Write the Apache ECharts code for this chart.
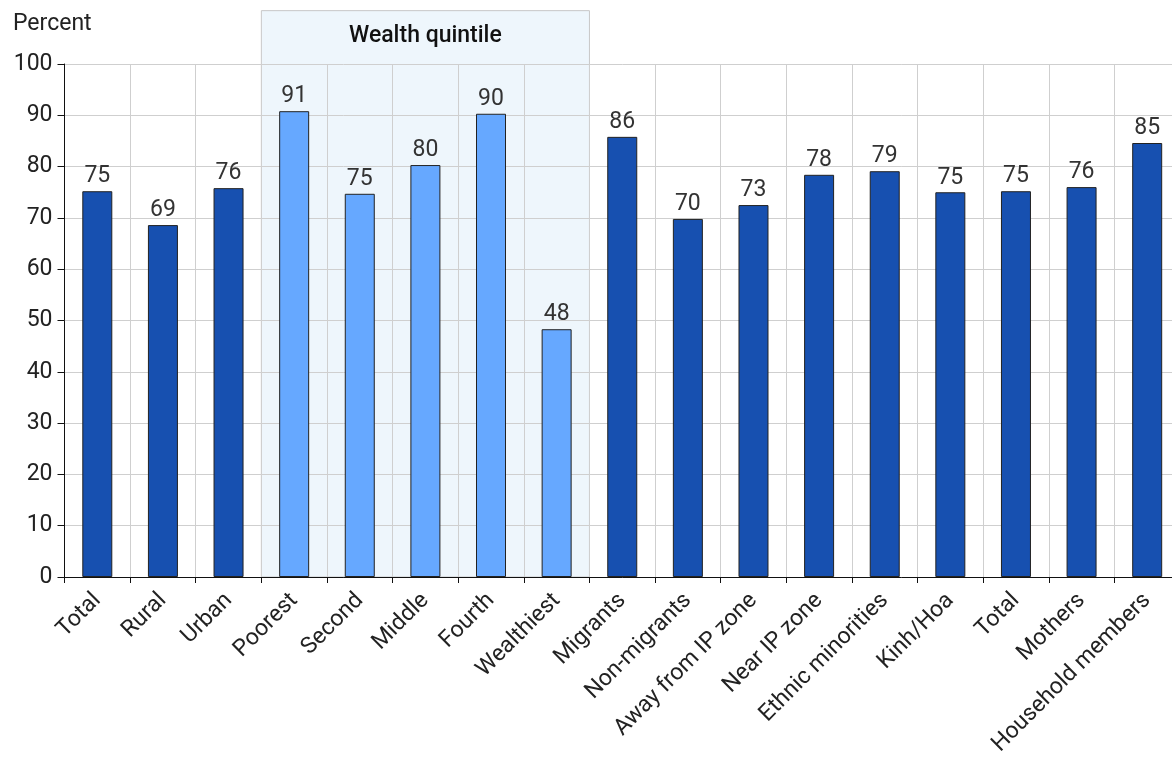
<!DOCTYPE html>
<html>
<head>
<meta charset="utf-8">
<script src="https://cdn.jsdelivr.net/npm/echarts@6/dist/echarts.min.js"></script>
<style>html,body{margin:0;padding:0;background:#fff;overflow:hidden}#c{width:1180px;height:761px}</style>
</head>
<body>
<div id="c"></div>
<script>
var categories = ['Total','Rural','Urban','Poorest','Second','Middle','Fourth','Wealthiest','Migrants','Non-migrants','Away from IP zone','Near IP zone','Ethnic minorities','Kinh/Hoa','Total','Mothers','Household members'];
var values = [75.2, 68.6, 75.8, 90.8, 74.7, 80.3, 90.3, 48.3, 85.8, 69.8, 72.5, 78.4, 79.1, 75.0, 75.2, 76.0, 84.6];
var groupIndex = [0,0,0,1,1,1,1,1,0,0,0,0,0,0,0,0,0];
var yTicks = [0, 100, 10];
var wealthBox = {start: 3, end: 8, label: 'Wealth quintile'};

var chart = echarts.init(document.getElementById('c'), null, {renderer: 'canvas'});
var FONT = 'Roboto, "Noto Sans", sans-serif';
var colors = ['#1750B0', '#66A8FF'];

chart.setOption({
  animation: false,
  title: {text: 'Percent', left: 8, top: 8, textStyle: {fontFamily: FONT, fontSize: 23, fontWeight: 'normal', color: '#222'}},
  grid: {left: 64.5, top: 64, right: 0, bottom: 184, containLabel: false},
  xAxis: [{
    type: 'category', data: categories,
    axisLine: {lineStyle: {color: '#111', width: 1}},
    axisTick: {show: true, length: 6, lineStyle: {color: '#111'}},
    splitLine: {show: true, lineStyle: {color: '#cfcfcf', width: 1}},
    axisLabel: {rotate: 45, fontFamily: FONT, fontSize: 23, color: '#222', margin: 20, interval: 0}
  }, {
    type: 'value', min: 0, max: categories.length, show: false
  }],
  yAxis: {
    type: 'value', min: yTicks[0], max: yTicks[1], interval: yTicks[2],
    axisLine: {show: true, lineStyle: {color: '#111'}},
    axisTick: {show: true, length: 7, lineStyle: {color: '#111'}},
    splitLine: {show: true, lineStyle: {color: '#cfcfcf', width: 1}},
    axisLabel: {fontFamily: FONT, fontSize: 23, color: '#222', margin: 12}
  },
  series: [{
    type: 'custom', xAxisIndex: 1, yAxisIndex: 0, z: -1, clip: false, silent: true,
    data: [[wealthBox.start, wealthBox.end]],
    renderItem: function (params, api) {
      var p0 = api.coord([api.value(0), 0]);
      var p1 = api.coord([api.value(1), 110.4]);
      var pt = api.coord([(api.value(0) + api.value(1)) / 2, 105.5]);
      return {type: 'group', children: [
        {type: 'rect', shape: {x: p0[0], y: p1[1], width: p1[0] - p0[0], height: p0[1] - p1[1]},
         style: {fill: '#EEF6FC', stroke: '#c8c8c8', lineWidth: 1}},
        {type: 'text', style: {text: wealthBox.label, x: pt[0], y: pt[1], textAlign: 'center', textVerticalAlign: 'middle',
          font: '500 23px ' + FONT, fill: '#111'}}
      ]};
    }
  }, {
    type: 'bar', xAxisIndex: 0, barWidth: 30, z: 3,
    data: values.map(function (v, i) {
      return {value: v, itemStyle: {color: colors[groupIndex[i]], borderColor: '#222', borderWidth: 1}};
    }),
    label: {show: true, position: 'top', distance: 3, fontFamily: FONT, fontSize: 23, color: '#333',
      formatter: function (p) { return Math.round(p.value); }}
  }]
});
</script>
</body>
</html>
